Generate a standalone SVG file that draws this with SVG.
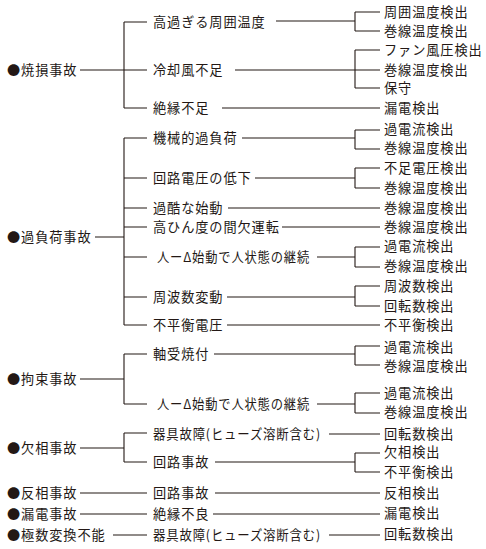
<svg xmlns="http://www.w3.org/2000/svg" width="486" height="549" viewBox="0 0 486 549">
<style>
text{font-family:"Noto Sans CJK JP","Noto Sans CJK SC",sans-serif;font-size:13.2px;fill:#231815;letter-spacing:0.9px}
.l{stroke:#231815;stroke-width:1.1;fill:none}
</style>
<rect width="486" height="549" fill="#fff"/>
<g id="connectors" class="l">
<path d="M80 70H147M124 22V108M124 22H147M124 108H147"/>
<path d="M276 21H355M355 12V31M355 12H380M355 31H380"/>
<path d="M235 70H380M355 50V88M355 50H380M355 88H380"/>
<path d="M222 108H380"/>
<path d="M95 237H124M124 138V325M124 138H147M124 178H147M124 208H147M124 227H147M124 257H147M124 297H147M124 325H147"/>
<path d="M242 138H355M355 130V149M355 130H380M355 149H380"/>
<path d="M255 178H355M355 168V188M355 168H380M355 188H380"/>
<path d="M228 208H380M282 227H380"/>
<path d="M317 257H355M355 247V267M355 247H380M355 267H380"/>
<path d="M227 297H355M355 286V306M355 286H380M355 306H380"/>
<path d="M227 325H380"/>
<path d="M80 379H124M124 354V404M124 354H147M124 404H147"/>
<path d="M214 354H355M355 346V365M355 346H380M355 365H380"/>
<path d="M317 404H355M355 393V413M355 393H380M355 413H380"/>
<path d="M80 448H124M124 433V462M124 433H147M124 462H147"/>
<path d="M329 434H380"/>
<path d="M215 462H355M355 453V472M355 453H380M355 472H380"/>
<path d="M80 493H147M215 493H380"/>
<path d="M80 514H147M213 514H380"/>
<path d="M113 535H147M329 535H380"/>
</g>
<g id="root-shoson"><text x="7" y="75">●焼損事故</text></g>
<g id="root-kafuka"><text x="7" y="242">●過負荷事故</text></g>
<g id="root-kosoku"><text x="7" y="384">●拘束事故</text></g>
<g id="root-kesso"><text x="7" y="453">●欠相事故</text></g>
<g id="root-hanso"><text x="7" y="498">●反相事故</text></g>
<g id="root-rouden"><text x="7" y="519">●漏電事故</text></g>
<g id="root-kyokusu"><text x="7" y="540">●極数変換不能</text></g>
<g id="m1"><text x="153" y="27">高過ぎる周囲温度</text></g>
<g id="m2"><text x="153" y="75">冷却風不足</text></g>
<g id="m3"><text x="153" y="113">絶縁不足</text></g>
<g id="m4"><text x="153" y="143">機械的過負荷</text></g>
<g id="m5"><text x="153" y="183">回路電圧の低下</text></g>
<g id="m6"><text x="153" y="213">過酷な始動</text></g>
<g id="m7"><text x="153" y="232">高ひん度の間欠運転</text></g>
<g id="m8"><text x="157" y="262" textLength="153" lengthAdjust="spacingAndGlyphs">人ーΔ始動で人状態の継続</text></g>
<g id="m9"><text x="153" y="302">周波数変動</text></g>
<g id="m10"><text x="153" y="330">不平衡電圧</text></g>
<g id="m11"><text x="153" y="359">軸受焼付</text></g>
<g id="m12"><text x="157" y="409" textLength="153" lengthAdjust="spacingAndGlyphs">人ーΔ始動で人状態の継続</text></g>
<g id="m13"><text x="153" y="439" textLength="168" lengthAdjust="spacingAndGlyphs">器具故障(ヒューズ溶断含む)</text></g>
<g id="m14"><text x="153" y="467">回路事故</text></g>
<g id="m15"><text x="153" y="498">回路事故</text></g>
<g id="m16"><text x="153" y="519">絶縁不良</text></g>
<g id="m17"><text x="153" y="540" textLength="168" lengthAdjust="spacingAndGlyphs">器具故障(ヒューズ溶断含む)</text></g>
<g id="r1"><text x="384" y="17">周囲温度検出</text></g>
<g id="r2"><text x="384" y="36">巻線温度検出</text></g>
<g id="r3"><text x="384" y="55">ファン風圧検出</text></g>
<g id="r4"><text x="384" y="75">巻線温度検出</text></g>
<g id="r5"><text x="384" y="93">保守</text></g>
<g id="r6"><text x="384" y="113">漏電検出</text></g>
<g id="r7"><text x="384" y="134">過電流検出</text></g>
<g id="r8"><text x="384" y="153">巻線温度検出</text></g>
<g id="r9"><text x="384" y="173">不足電圧検出</text></g>
<g id="r10"><text x="384" y="193">巻線温度検出</text></g>
<g id="r11"><text x="384" y="213">巻線温度検出</text></g>
<g id="r12"><text x="384" y="232">巻線温度検出</text></g>
<g id="r13"><text x="384" y="251">過電流検出</text></g>
<g id="r14"><text x="384" y="271">巻線温度検出</text></g>
<g id="r15"><text x="384" y="291">周波数検出</text></g>
<g id="r16"><text x="384" y="311">回転数検出</text></g>
<g id="r17"><text x="384" y="330">不平衡検出</text></g>
<g id="r18"><text x="384" y="352">過電流検出</text></g>
<g id="r19"><text x="384" y="371">巻線温度検出</text></g>
<g id="r20"><text x="384" y="398">過電流検出</text></g>
<g id="r21"><text x="384" y="417">巻線温度検出</text></g>
<g id="r22"><text x="384" y="439">回転数検出</text></g>
<g id="r23"><text x="384" y="457">欠相検出</text></g>
<g id="r24"><text x="384" y="477">不平衡検出</text></g>
<g id="r25"><text x="384" y="498">反相検出</text></g>
<g id="r26"><text x="384" y="518">漏電検出</text></g>
<g id="r27"><text x="384" y="539">回転数検出</text></g>
</svg>
